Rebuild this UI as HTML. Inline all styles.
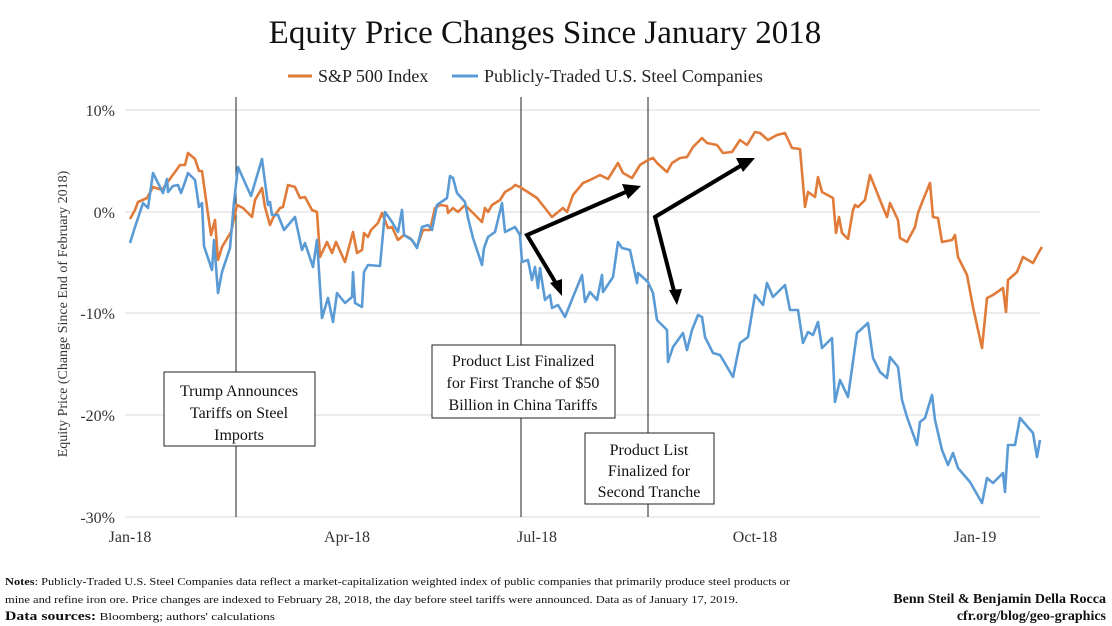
<!DOCTYPE html>
<html><head><meta charset="utf-8"><style>
html,body{margin:0;padding:0;background:#fff;}
svg{display:block;font-family:"Liberation Serif",serif;}
</style></head><body>
<svg width="1112" height="626" viewBox="0 0 1112 626" xmlns="http://www.w3.org/2000/svg">
<rect width="1112" height="626" fill="#fff"/>
<text x="545" y="43" font-size="33" text-anchor="middle" fill="#111">Equity Price Changes Since January 2018</text>
<line x1="288" y1="76" x2="312" y2="76" stroke="#E07B39" stroke-width="3"/>
<text x="318" y="82" font-size="18" fill="#222">S&amp;P 500 Index</text>
<line x1="452" y1="76" x2="478" y2="76" stroke="#5B9BD5" stroke-width="3"/>
<text x="484" y="82" font-size="18" fill="#222">Publicly-Traded U.S. Steel Companies</text>
<g stroke="#d9d9d9" stroke-width="1">
<line x1="125" y1="110" x2="1040" y2="110"/><line x1="125" y1="212" x2="1040" y2="212"/>
<line x1="125" y1="313" x2="1040" y2="313"/><line x1="125" y1="415" x2="1040" y2="415"/>
<line x1="125" y1="517" x2="1040" y2="517"/></g>
<g font-size="16" fill="#333" text-anchor="end">
<text x="115" y="116">10%</text><text x="115" y="218">0%</text><text x="115" y="319">-10%</text>
<text x="115" y="421">-20%</text><text x="115" y="523">-30%</text></g>
<g font-size="16" fill="#333" text-anchor="middle">
<text x="130" y="542">Jan-18</text><text x="347" y="542">Apr-18</text><text x="537" y="542">Jul-18</text>
<text x="755" y="542">Oct-18</text><text x="975" y="542">Jan-19</text></g>
<text transform="translate(67,314) rotate(-90)" font-size="14" fill="#333" text-anchor="middle">Equity Price (Change Since End of February 2018)</text>
<g stroke="#222" stroke-width="1">
<line x1="236" y1="97" x2="236" y2="517"/><line x1="521" y1="97" x2="521" y2="517"/><line x1="648" y1="97" x2="648" y2="517"/></g>
<polyline fill="none" stroke="#E07B39" stroke-width="2.6" stroke-linejoin="round" points="130,219 135,210 138,202 147,198 153,187 162,190 167,183 180,165 185,165 188,153 195,159 199,171 202,171 207,207 211,235 215,220 218,260 222,247 231,232 237,205 243,208 252,217 255,200 262,188 265,207 270,225 273,218 280,208 283,207 288,185 295,187 300,198 305,197 312,210 317,212 320,257 327,242 332,253 336,242 345,262 353,232 357,253 362,250 364,233 368,237 371,230 378,223 382,213 388,228 392,227 398,240 404,235 410,238 417,247 423,230 430,230 435,208 440,205 447,206 448,213 453,208 458,212 465,205 473,213 482,222 485,208 488,212 492,205 500,200 505,192 512,188 515,185 520,187 537,198 552,217 563,208 567,212 573,195 583,183 590,180 600,175 608,179 618,163 623,173 632,178 637,170 640,165 648,160 653,158 657,163 667,172 672,163 680,158 687,157 693,147 702,138 707,143 717,145 723,153 732,152 740,140 747,145 755,132 760,133 768,140 777,135 785,133 792,148 800,149 805,207 808,192 815,197 818,177 822,192 833,198 836,233 839,217 842,233 848,239 853,210 855,205 858,207 865,200 870,175 880,200 887,217 890,203 898,220 900,238 907,242 915,227 918,213 923,200 930,183 933,217 938,218 942,242 952,240 955,235 958,257 967,275 973,307 982,348 987,298 993,295 1003,288 1006,312 1008,280 1017,272 1023,257 1033,263 1040,250 1042,247"/>
<polyline fill="none" stroke="#5B9BD5" stroke-width="2.6" stroke-linejoin="round" points="130,243 135,227 143,203 148,208 153,173 163,193 167,179 168,192 173,186 178,185 181,193 185,182 188,173 195,180 199,207 202,203 204,246 212,270 214,240 218,293 222,272 230,248 234,202 238,167 251,196 262,159 268,205 270,202 272,215 278,215 284,230 295,217 302,250 305,243 313,267 317,240 322,318 328,298 333,322 337,293 345,303 352,297 353,272 355,303 362,307 364,272 368,265 380,266 385,212 392,222 398,232 402,210 404,235 412,240 417,248 422,227 428,225 432,230 437,205 447,198 450,176 453,178 457,193 465,202 468,218 473,238 482,265 484,248 488,237 495,232 502,203 505,232 515,227 520,235 522,262 528,260 532,280 535,267 538,288 540,268 545,300 550,295 552,308 558,305 565,317 573,297 582,275 585,302 590,292 597,300 602,275 603,292 613,277 618,242 622,248 630,250 637,283 638,273 648,282 653,293 657,320 667,330 668,362 673,347 683,333 687,350 692,330 698,315 702,317 705,337 713,353 720,355 723,360 733,377 740,343 748,337 755,295 763,305 767,283 773,297 785,285 790,310 798,310 803,343 808,332 813,335 818,322 822,348 832,338 835,402 840,380 848,397 857,333 868,323 873,358 880,372 887,378 890,357 898,367 902,400 907,417 917,445 920,422 925,418 932,395 935,420 942,450 948,465 953,453 958,468 970,482 982,503 987,478 993,483 1003,473 1005,492 1008,445 1015,445 1020,418 1033,433 1037,457 1040,440"/>
<g stroke="#000" stroke-width="4" fill="none" stroke-linejoin="miter">
<polyline points="628,191 527,235 557,285"/>
<polyline points="742,165 655,217 675,295"/></g>
<g fill="#000">
<polygon points="641,186 622,184 628,199"/>
<polygon points="562,296 550,283 562,279"/>
<polygon points="755,158 736,158 743,172"/>
<polygon points="677,305 669,290 682,289"/></g>
<g fill="#fff" stroke="#222" stroke-width="1">
<rect x="164" y="372" width="151" height="74"/><rect x="432" y="345" width="183" height="73"/><rect x="585" y="433" width="129" height="71"/></g>
<g font-size="16" fill="#111" text-anchor="middle">
<text x="239" y="396">Trump Announces</text><text x="239" y="418">Tariffs on Steel</text><text x="239" y="440">Imports</text>
<text x="523" y="366">Product List Finalized</text><text x="523" y="388">for First Tranche of $50</text><text x="523" y="410">Billion in China Tariffs</text>
<text x="649" y="455">Product List</text><text x="649" y="476">Finalized for</text><text x="649" y="497">Second Tranche</text></g>
<g font-size="11" fill="#111">
<text x="5" y="585" textLength="785" lengthAdjust="spacingAndGlyphs"><tspan font-weight="bold">Notes</tspan>: Publicly-Traded U.S. Steel Companies data reflect a market-capitalization weighted index of public companies that primarily produce steel products or</text>
<text x="5" y="603" textLength="733" lengthAdjust="spacingAndGlyphs">mine and refine iron ore. Price changes are indexed to February 28, 2018, the day before steel tariffs were announced. Data as of January 17, 2019.</text>
<text x="5" y="620" textLength="270" lengthAdjust="spacingAndGlyphs"><tspan font-weight="bold" font-size="13">Data sources:</tspan> Bloomberg; authors' calculations</text></g>
<g font-size="14" font-weight="bold" fill="#111" text-anchor="end">
<text x="1106" y="603">Benn Steil &amp; Benjamin Della Rocca</text>
<text x="1106" y="620">cfr.org/blog/geo-graphics</text></g>
</svg>
</body></html>
